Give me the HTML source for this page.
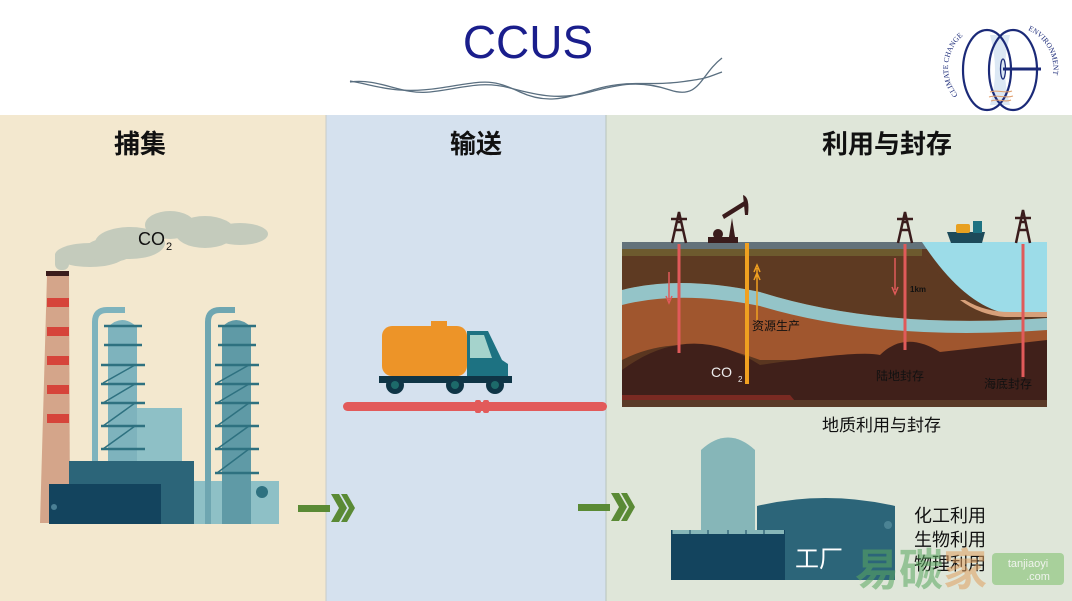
<!DOCTYPE html>
<html><head><meta charset="utf-8"><style>
html,body{margin:0;padding:0;width:1072px;height:601px;overflow:hidden;background:#fff}
svg{display:block;font-family:"Liberation Sans","Noto Sans CJK SC",sans-serif}
</style></head><body>
<svg width="1072" height="601" viewBox="0 0 1072 601" xmlns="http://www.w3.org/2000/svg">
<defs>
<path id="lp" d="M958 95 A42 42 0 0 1 972 30"/>
<path id="rp" d="M1028 30 A42 42 0 0 1 1044 95"/>
</defs>
<rect width="1072" height="115" fill="#fff"/>
<rect x="0" y="115" width="326" height="486" fill="#f3e8cf"/>
<rect x="326" y="115" width="280" height="486" fill="#d5e1ee"/>
<rect x="606" y="115" width="466" height="486" fill="#dfe6d9"/>
<line x1="326" y1="115" x2="326" y2="601" stroke="#c8ccc8"/>
<line x1="606" y1="115" x2="606" y2="601" stroke="#b8c4bc"/>
<!-- title -->
<text x="528" y="58" font-size="46" fill="#1a1e8c" text-anchor="middle" font-family="Liberation Sans,sans-serif">CCUS</text>
<g fill="none" stroke="#5a6f80" stroke-width="1.3">
<path d="M350 82 C380 78,400 95,430 92 S480 80,510 88 S560 100,590 92 S640 80,670 90 S700 75,722 58"/>
<path d="M350 81 C375 85,395 95,440 88 S490 78,520 92 S570 96,600 88 S650 86,680 82 S705 78,722 72"/>
</g>
<!-- logo -->
<path d="M990 35 Q1000 70 990 105 L1010 105 Q1000 70 1010 35 Z" fill="#dce8f4"/>
<g fill="none" stroke="#1b2a78" stroke-width="2.2">
<ellipse cx="987" cy="70" rx="24" ry="40"/>
<ellipse cx="1013" cy="70" rx="24" ry="40"/>
<line x1="1003" y1="69" x2="1041" y2="69" stroke-width="3"/>
<ellipse cx="1003" cy="69" rx="2.5" ry="10" stroke-width="1.3"/>
</g>
<path d="M990 92 C997 89,1005 94,1012 91 M989 97 C997 94,1005 99,1013 96 M991 101 C998 98,1005 103,1011 100" stroke="#e0a070" fill="none" stroke-width="1"/>
<text font-size="7.5" fill="#1b2a78" font-family="Liberation Serif,serif"><textPath href="#lp" startOffset="0">CLIMATE CHANGE</textPath></text>
<text font-size="7.5" fill="#1b2a78" font-family="Liberation Serif,serif"><textPath href="#rp" startOffset="0">ENVIRONMENT</textPath></text>
<!-- headings -->
<g font-size="26" font-weight="bold" fill="#111" text-anchor="middle">
<text x="140" y="153">捕集</text>
<text x="476" y="153">输送</text>
<text x="887" y="153">利用与封存</text>
</g>
<!-- cloud -->
<g fill="#c4cbbc">
<ellipse cx="90" cy="255" rx="35" ry="12"/><ellipse cx="130" cy="243" rx="35" ry="16"/><ellipse cx="170" cy="225" rx="25" ry="14"/><ellipse cx="205" cy="232" rx="30" ry="16"/><ellipse cx="240" cy="234" rx="28" ry="11"/><ellipse cx="110" cy="250" rx="25" ry="12"/>
<rect x="55" y="250" width="14" height="20" rx="6"/>
</g>
<text x="138" y="245" font-size="18" fill="#111">CO</text><text x="166" y="250" font-size="11" fill="#111">2</text>
<!-- chimney -->
<path d="M47 275 L69 275 L70 523 L40 523 Z" fill="#d4a58a"/>
<rect x="46" y="271" width="23" height="5" fill="#3a1c1c"/>
<g fill="#d6443a"><rect x="47" y="298" width="22" height="9"/><rect x="47" y="327" width="22" height="9"/><rect x="47" y="356" width="22" height="9"/><rect x="47" y="385" width="22" height="9"/><rect x="47" y="414" width="22" height="9"/></g>
<!-- tower1 -->
<path d="M95 462 L95 322 Q95 310 107 310 L125 310" stroke="#7eb3bd" stroke-width="6" fill="none"/>
<rect x="137" y="408" width="45" height="55" fill="#8ec0c6"/>
<path d="M108 462 L108 327 Q122 313 137 327 L137 462 Z" fill="#7eb3bd"/>
<g stroke="#2e7180" stroke-width="2.5"><line x1="104" y1="326" x2="142" y2="326"/><line x1="104" y1="345" x2="142" y2="345"/><line x1="101" y1="365" x2="145" y2="365"/><line x1="101" y1="384" x2="145" y2="384"/><line x1="101" y1="403" x2="145" y2="403"/><line x1="101" y1="426" x2="145" y2="426"/><line x1="101" y1="449" x2="145" y2="449"/>
<path d="M103 383 L135 365 M103 403 L135 384 M103 426 L135 403 M103 449 L135 426" stroke-width="1.5"/></g>
<!-- tower2 -->
<rect x="193" y="481" width="86" height="43" fill="#8ec0c6"/>
<circle cx="262" cy="492" r="6" fill="#2e7180"/>
<path d="M208 524 L208 322 Q208 310 220 310 L235 310" stroke="#6ea6b1" stroke-width="6" fill="none"/>
<path d="M222 524 L222 327 Q236 313 251 327 L251 524 Z" fill="#5f9aa6"/>
<g stroke="#2e7180" stroke-width="2.5"><line x1="218" y1="326" x2="256" y2="326"/><line x1="218" y1="345" x2="256" y2="345"/><line x1="215" y1="365" x2="259" y2="365"/><line x1="215" y1="384" x2="259" y2="384"/><line x1="215" y1="403" x2="259" y2="403"/><line x1="215" y1="426" x2="259" y2="426"/><line x1="215" y1="449" x2="259" y2="449"/><line x1="215" y1="473" x2="259" y2="473"/>
<path d="M217 383 L249 365 M217 403 L249 384 M217 426 L249 403 M217 449 L249 426 M217 473 L249 449" stroke-width="1.5"/></g>
<rect x="69" y="461" width="125" height="63" fill="#2c6579"/>
<rect x="49" y="484" width="112" height="40" fill="#13445e"/>
<circle cx="54" cy="507" r="3" fill="#4a7f94"/>
<!-- arrows -->
<g fill="#5a8a35">
<rect x="298" y="505" width="32" height="7"/><path d="M331 494 L339 494 L347 508 L339 522 L331 522 L339 508 Z"/><path d="M341 494 L347 494 L355 508 L347 522 L341 522 L349 508 Z"/>
<rect x="578" y="504" width="32" height="7"/><path d="M611 493 L619 493 L627 507 L619 521 L611 521 L619 507 Z"/><path d="M621 493 L627 493 L635 507 L627 521 L621 521 L629 507 Z"/>
</g>
<!-- truck -->
<rect x="431" y="321" width="16" height="8" fill="#ed9428"/>
<rect x="382" y="326" width="85" height="50" rx="10" fill="#ed9428"/>
<path d="M467 331 L488 331 L502 360 L508 364 L508 380 L467 380 Z" fill="#1d7282"/>
<path d="M470 335 L484 335 L492 358 L470 358 Z" fill="#a5d3cc"/>
<rect x="379" y="376" width="133" height="7" fill="#0f3546"/>
<g fill="#0f3546"><circle cx="395" cy="385" r="9"/><circle cx="455" cy="385" r="9"/><circle cx="495" cy="385" r="9"/></g>
<g fill="#1d6a6a"><circle cx="395" cy="385" r="4"/><circle cx="455" cy="385" r="4"/><circle cx="495" cy="385" r="4"/></g>
<rect x="343" y="402" width="264" height="9" rx="4.5" fill="#e25a5a"/>
<rect x="475" y="400" width="6" height="13" rx="2" fill="#e25a5a"/><rect x="483" y="400" width="6" height="13" rx="2" fill="#e25a5a"/>
<!-- geology -->
<rect x="622" y="242" width="425" height="165" fill="#5f3a22"/>
<rect x="622" y="242" width="425" height="7" fill="#63727a"/>
<rect x="622" y="249" width="300" height="7" fill="#6d5a2e"/>
<path d="M622 256 L922 256 Q960 300 1000 310 L1047 310 L1047 407 L622 407 Z" fill="#5e3a22"/>
<path d="M622 290 Q680 275 760 292 Q880 330 1047 318 L1047 360 L622 360 Z" fill="#a0562e"/>
<path d="M622 290 Q680 275 760 292 Q880 330 1047 318 L1047 330 Q880 342 760 306 Q680 290 622 305 Z" fill="#94c4c8"/>
<path d="M922 242 L1047 242 L1047 312 L1000 312 Q960 300 922 242 Z" fill="#9cdce8"/>
<path d="M965 300 Q985 312 1010 312 L1047 312 L1047 317 L1005 317 Q980 315 960 300 Z" fill="#d7a07a"/>
<path d="M622 360 Q680 330 760 360 L1047 360 L1047 407 L622 407 Z" fill="#5a3620"/>
<path d="M622 370 Q690 320 760 365 Q860 350 880 355 Q905 330 940 352 L1047 340 L1047 407 L622 407 Z" fill="#40201a"/>
<path d="M622 395 L790 395 L800 407 L622 407 Z" fill="#7a2a22"/>
<rect x="622" y="400" width="425" height="7" fill="#5a3a28"/>
<g stroke="#e05a5a" stroke-width="3"><line x1="679" y1="244" x2="679" y2="353"/><line x1="905" y1="244" x2="905" y2="350"/><line x1="1023" y1="244" x2="1023" y2="377"/></g>
<line x1="747" y1="243" x2="747" y2="384" stroke="#f0a020" stroke-width="4"/>
<path d="M669 272 L669 300 M666 296 L669 303 L672 296" stroke="#e05a5a" stroke-width="1.5" fill="none"/>
<path d="M895 258 L895 290 M892 287 L895 294 L898 287" stroke="#e05a5a" stroke-width="1.5" fill="none"/>
<path d="M757 320 L757 268 M754 272 L757 265 L760 272 M754 280 L757 273 L760 280" stroke="#f0a020" stroke-width="1.5" fill="none"/>
<text x="752" y="330" font-size="12" fill="#111">资源生产</text>
<text x="910" y="292" font-size="8" font-weight="bold" fill="#111">1km</text>
<text x="711" y="377" font-size="14" fill="#eee">CO</text><text x="738" y="382" font-size="8" fill="#eee">2</text>
<text x="876" y="380" font-size="12" fill="#111">陆地封存</text>
<text x="984" y="388" font-size="12" fill="#111">海底封存</text>
<!-- derricks -->
<g stroke="#3a1c1c" stroke-width="2.5" fill="none">
<path d="M672 243 L679 212 L686 243 M674 230 L684 230 M676 222 L682 222 M671 219 L687 219"/>
<path d="M898 243 L905 212 L912 243 M900 230 L910 230 M902 222 L908 222 M897 219 L913 219"/>
<path d="M1016 243 L1023 210 L1030 243 M1018 230 L1028 230 M1020 222 L1026 222 M1015 218 L1031 218"/>
</g>
<g fill="#3a1c1c"><rect x="708" y="237" width="30" height="6"/><circle cx="718" cy="234" r="5"/><path d="M722 215 L746 200 L748 204 L724 219 Z"/><path d="M728 243 L732 218 L736 243 Z"/><path d="M743 195 Q750 197 748 215 L745 215 Z"/></g>
<path d="M947 232 L985 232 L982 243 L951 243 Z" fill="#1d4a5a"/>
<rect x="956" y="224" width="14" height="9" rx="2" fill="#e8a020"/>
<rect x="973" y="221" width="9" height="12" fill="#1d7282"/>
<text x="822" y="431" font-size="17" fill="#111">地质利用与封存</text>
<!-- factory right -->
<path d="M701 530 L701 450 Q728 425 755 450 L755 530 Z" fill="#86b6b8"/>
<path d="M757 580 L757 506 Q825 490 895 506 L895 580 Z" fill="#2c6579"/>
<circle cx="888" cy="525" r="4" fill="#4b8394"/>
<rect x="671" y="530" width="114" height="50" fill="#13445e"/>
<rect x="672" y="530" width="112" height="4" fill="#86b6b8"/>
<path d="M672 530 L672 535 M690 530 L690 535 M708 530 L708 535 M728 530 L728 535 M746 530 L746 535 M764 530 L764 535" stroke="#13445e"/>
<text x="795" y="567" font-size="24" fill="#fff">工厂</text>
<g font-size="18" fill="#111"><text x="914" y="522">化工利用</text><text x="914" y="546">生物利用</text><text x="914" y="570">物理利用</text></g>
<!-- watermark -->
<g opacity="0.55"><text x="855" y="585" font-size="44" font-weight="bold" fill="#5aa860">易碳</text><text x="943" y="585" font-size="44" font-weight="bold" fill="#e0a060">家</text>
<rect x="992" y="553" width="72" height="32" rx="4" fill="#7cbf6a"/><text x="1028" y="567" font-size="11" fill="#fff" text-anchor="middle">tanjiaoyi</text><text x="1038" y="580" font-size="11" fill="#fff" text-anchor="middle">.com</text></g>
</svg>
</body></html>
